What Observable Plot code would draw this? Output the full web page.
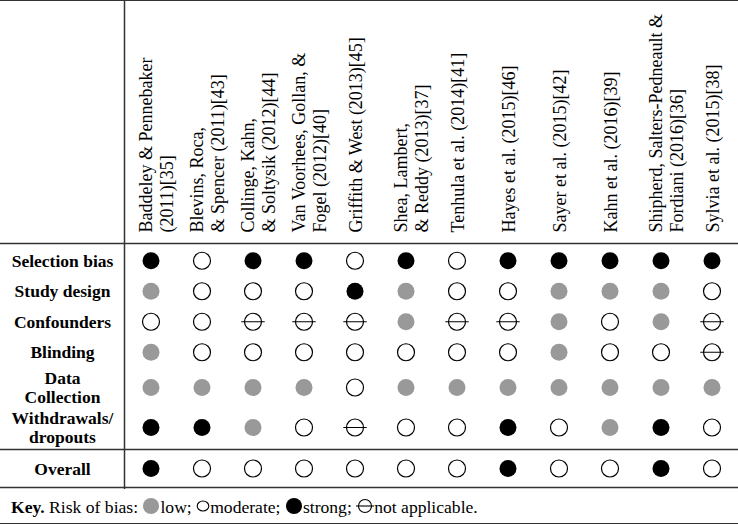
<!DOCTYPE html>
<html>
<head>
<meta charset="utf-8">
<script src="https://cdn.jsdelivr.net/npm/d3@7"></script>
<script src="https://cdn.jsdelivr.net/npm/@observablehq/plot@0.6"></script>
<style>
  html, body { margin: 0; padding: 0; background: #fff; }
  #wrap { width: 738px; border-top: 1.5px solid #333; }
  #chart svg { display: block; }
  #key {
    height: 34px; line-height: 36px; border-bottom: 1.5px solid #333;
    padding-left: 11px; white-space: nowrap;
    font-family: "Liberation Serif", "Times New Roman", serif; font-size: 17.6px; color: #000;
  }
  #key svg { vertical-align: -2px; }
</style>
</head>
<body>
<div id="wrap">
  <div id="chart"></div>
  <div id="key"></div>
</div>
<script>
// ---- data ----
const studies = [
  "Baddeley & Pennebaker\n(2011)[35]",
  "Blevins, Roca,\n& Spencer (2011)[43]",
  "Collinge, Kahn,\n& Soltysik (2012)[44]",
  "Van Voorhees, Gollan, &\nFogel (2012)[40]",
  "Griffith & West (2013)[45]",
  "Shea, Lambert,\n& Reddy (2013)[37]",
  "Tenhula et al. (2014)[41]",
  "Hayes et al. (2015)[46]",
  "Sayer et al. (2015)[42]",
  "Kahn et al. (2016)[39]",
  "Shipherd, Salters-Pedneault &\nFordiani (2016)[36]",
  "Sylvia et al. (2015)[38]"
];
const domains = ["Selection bias", "Study design", "Confounders", "Blinding", "Data\nCollection", "Withdrawals/\ndropouts", "Overall"];

// L = low, M = moderate, S = strong, NA = not applicable
const selectionBias  = ["S","M","S","S","M","S","M","S","S","S","S","S"];
const studyDesign    = ["L","M","M","M","S","L","M","M","L","L","L","M"];
const confounders    = ["M","M","NA","NA","NA","L","NA","NA","L","M","L","NA"];
const blinding       = ["L","M","M","M","M","M","M","M","L","M","M","NA"];
const dataCollection = ["L","L","L","L","M","L","L","L","L","L","L","L"];
const withdrawals    = ["S","S","L","M","NA","M","M","S","M","L","S","M"];
const overall        = ["S","M","M","M","M","M","M","S","M","M","S","M"];

const keyCodes  = ["L", "M", "S", "NA"];
const keyLabels = ["low", "moderate", "strong", "not applicable"];

// ---- build table ----
const ratingsByDomain = [selectionBias, studyDesign, confounders, blinding, dataCollection, withdrawals, overall];
const cells = domains.flatMap((d, i) => studies.map((s, j) => ({domain: d, study: s, rating: ratingsByDomain[i][j]})));

// ---- layout (row heights depend on label line count) ----
const LABEL_W = 124;
const W = 738;
const nLines = s => s.split("\n").length;
const rowH = {1: 30.5, 2: 40};
const centers = {};
let cursor = 2;
for (const d of domains.slice(0, -1)) {
  const h = rowH[nLines(d)];
  centers[d] = cursor + h / 2;
  cursor += h;
}
const sepY = cursor + 2;
centers["Overall"] = sepY + 19;
const bottomY = sepY + 38;

const naSymbol = {
  draw(ctx, size) {
    const r = Math.sqrt(size / Math.PI);
    ctx.moveTo(r, 0);
    ctx.arc(0, 0, r, 0, 2 * Math.PI);
    ctx.moveTo(-r * 1.38, 0);
    ctx.lineTo(r * 1.38, 0);
  }
};

const font = "'Liberation Serif', 'Times New Roman', serif";
const R = 8.5;
const yOf = d => centers[d.domain];

const chart = Plot.plot({
  width: W,
  height: 488,
  marginLeft: 0, marginRight: 0, marginTop: 0, marginBottom: 0,
  x: {type: "band", domain: studies, range: [LABEL_W, W], padding: 0, axis: null},
  y: {type: "linear", domain: [0, bottomY], range: [242, 242 + bottomY], axis: null},
  style: {background: "white", overflow: "hidden", fontFamily: font, color: "#000"},
  marks: [
    Plot.frame({stroke: "#333", strokeWidth: 1.5, insetLeft: LABEL_W, insetTop: -4, insetRight: -4, insetBottom: -4}),
    Plot.ruleY([0, sepY, bottomY], {stroke: "#333", strokeWidth: 1.5}),
    // column headers (rotated)
    Plot.text(studies.filter(s => nLines(s) === 1), {
      x: d => d, y: () => -11, rotate: -90, textAnchor: "start",
      fontSize: 18, lineHeight: 1.12, fill: "#000", dx: 1
    }),
    Plot.text(studies.filter(s => nLines(s) === 2), {
      x: d => d, y: () => -11, rotate: -90, textAnchor: "start",
      fontSize: 18, lineHeight: 1.12, fill: "#000", dx: 5
    }),
    // row labels
    Plot.text(domains, {
      y: d => centers[d], frameAnchor: "left", dx: LABEL_W / 2, textAnchor: "middle",
      fontSize: 17.5, fontWeight: "bold", lineHeight: 1.1, fill: "#000"
    }),
    // ratings
    Plot.dot(cells.filter(d => d.rating === "L"), {x: "study", y: yOf, r: R, fill: "#999999", stroke: "none"}),
    Plot.dot(cells.filter(d => d.rating === "S"), {x: "study", y: yOf, r: R, fill: "#000", stroke: "none"}),
    Plot.dot(cells.filter(d => d.rating === "M"), {x: "study", y: yOf, r: R, fill: "white", stroke: "#000", strokeWidth: 1.2}),
    Plot.dot(cells.filter(d => d.rating === "NA"), {x: "study", y: yOf, r: R, symbol: naSymbol, fill: "white", stroke: "#000", strokeWidth: 1.2})
  ]
});
document.getElementById("chart").append(chart);

// ---- key ----
const icon = code => {
  if (code === "L") return `<svg width="18" height="18" viewBox="-9 -9 18 18"><circle r="8" fill="#999999"/></svg>`;
  if (code === "S") return `<svg width="18" height="18" viewBox="-9 -9 18 18"><circle r="8" fill="#000"/></svg>`;
  if (code === "M") return `<svg width="14" height="18" viewBox="-7 -9 14 18"><ellipse rx="5.8" ry="5" fill="white" stroke="#000" stroke-width="1.1"/></svg>`;
  return `<svg width="18" height="18" viewBox="-9 -9 18 18"><circle r="6.5" fill="white" stroke="#000" stroke-width="1.1"/><line x1="-9" x2="9" y1="0" y2="0" stroke="#000" stroke-width="1.1"/></svg>`;
};
document.getElementById("key").innerHTML =
  `<b>Key.</b> Risk of bias: ` +
  keyCodes.map((c, i) => icon(c) + keyLabels[i] + (i < keyCodes.length - 1 ? ";" : ".")).join(" ");
</script>
</body>
</html>
